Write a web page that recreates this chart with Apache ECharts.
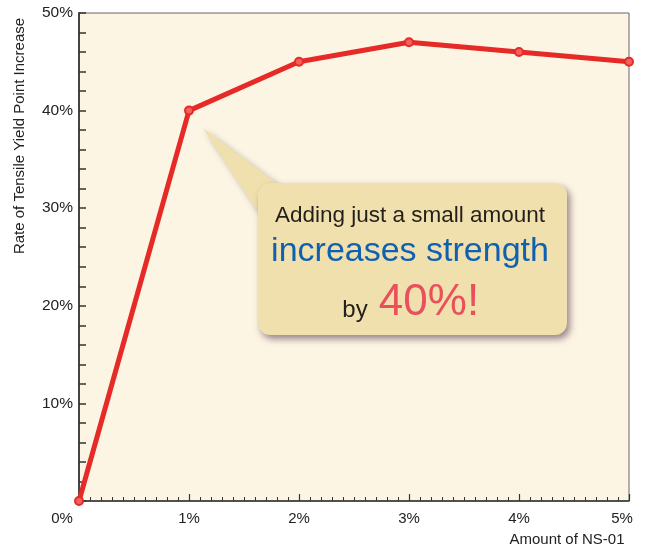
<!DOCTYPE html>
<html>
<head>
<meta charset="utf-8">
<script src="https://cdn.jsdelivr.net/npm/echarts@6/dist/echarts.min.js"></script>
<style>
html,body{margin:0;padding:0;background:#fff;}
#c{width:647px;height:547px;}
</style>
</head>
<body>
<div id="c"></div>
<script>
var categories = [0, 1, 2, 3, 4, 5];           // Amount of NS-01 (%)
var yieldIncrease = [0, 40, 45, 47, 46, 45];   // Rate of tensile yield point increase (%)
var yTicks = [0, 10, 20, 30, 40, 50];
var xTicks = [0, 1, 2, 3, 4, 5];

var chart = echarts.init(document.getElementById('c'), null, {renderer: 'canvas'});
var FONT = '"Liberation Sans", Arial, Helvetica, sans-serif';

var option = {
  animation: false,
  backgroundColor: '#ffffff',
  grid: {
    left: 79, top: 13, right: 18, bottom: 46,
    show: true, backgroundColor: '#fdf5e4', borderColor: '#666666', borderWidth: 1
  },
  xAxis: {
    type: 'value',
    min: xTicks[0], max: xTicks[xTicks.length - 1], interval: 1,
    axisLine: {show: true, onZero: false, lineStyle: {color: '#333', width: 1.5}},
    axisTick: {show: true, inside: true, length: 7, lineStyle: {color: '#333', width: 1.2}},
    minorTick: {show: true, splitNumber: 10, length: 4, lineStyle: {color: '#333', width: 1}},
    splitLine: {show: false},
    axisLabel: {
      margin: 10, color: '#222', fontSize: 15, fontFamily: FONT,
      formatter: function (v) {
        if (v === 0) return '{z|0%}';
        if (v === 5) return '{e|5%}';
        return v + '%';
      },
      rich: {
        z: {fontSize: 15, fontFamily: FONT, color: '#222', padding: [0, 34, 0, 0]},
        e: {fontSize: 15, fontFamily: FONT, color: '#222', padding: [0, 14, 0, 0]}
      }
    }
  },
  yAxis: {
    type: 'value',
    min: yTicks[0], max: yTicks[yTicks.length - 1], interval: 10,
    axisLine: {show: true, lineStyle: {color: '#444', width: 2}},
    axisTick: {show: true, inside: true, length: 7, lineStyle: {color: '#333', width: 1.5}},
    minorTick: {show: true, splitNumber: 5, length: 7, lineStyle: {color: '#333', width: 1.5}},
    splitLine: {show: false},
    axisLabel: {
      margin: 6, color: '#222', fontSize: 15.5, fontFamily: FONT,
      formatter: function (v) { return v === 0 ? '' : v + '%'; }
    }
  },
  series: [{
    type: 'line',
    data: categories.map(function (c, i) { return [c, yieldIncrease[i]]; }),
    lineStyle: {color: '#e62a27', width: 5},
    symbol: 'circle', symbolSize: 8,
    itemStyle: {color: '#f26060', borderColor: '#e62a27', borderWidth: 2},
    clip: false,
    z: 3
  }],
  graphic: [
    {type: 'text', x: 20, y: 136, rotation: Math.PI / 2,
     style: {text: 'Rate of Tensile Yield Point Increase', fontSize: 15, fontFamily: FONT, fill: '#222', align: 'center', verticalAlign: 'middle'}},
    {type: 'text', x: 567, y: 540,
     style: {text: 'Amount of NS-01', fontSize: 15, fontFamily: FONT, fill: '#222', align: 'center', verticalAlign: 'middle'}},
    {type: 'polygon', z: 10,
     shape: {points: [[203, 128], [279, 185], [258, 212]]},
     style: {fill: '#f0e0ae', shadowBlur: 6, shadowOffsetX: 2, shadowOffsetY: 2, shadowColor: 'rgba(0,0,0,0.25)'}},
    {type: 'rect', z: 10,
     shape: {x: 258, y: 183, width: 309, height: 152, r: 12},
     style: {fill: '#f0e0ae', shadowBlur: 7, shadowOffsetX: 3, shadowOffsetY: 4, shadowColor: 'rgba(70,40,60,0.55)'}},
    {type: 'text', z: 11, x: 410, y: 216,
     style: {text: 'Adding just a small amount', fontSize: 22.5, fontFamily: FONT, fill: '#231f1a', align: 'center', verticalAlign: 'middle'}},
    {type: 'text', z: 11, x: 410, y: 252,
     style: {text: 'increases strength', fontSize: 34, fontFamily: FONT, fill: '#1060b0', align: 'center', verticalAlign: 'middle'}},
    {type: 'text', z: 11, x: 355, y: 310,
     style: {text: 'by', fontSize: 24, fontFamily: FONT, fill: '#231f1a', align: 'center', verticalAlign: 'middle'}},
    {type: 'text', z: 11, x: 429, y: 303,
     style: {text: '40%!', fontSize: 44, fontFamily: FONT, fill: '#ea505c', align: 'center', verticalAlign: 'middle'}}
  ]
};
chart.setOption(option);
</script>
</body>
</html>
